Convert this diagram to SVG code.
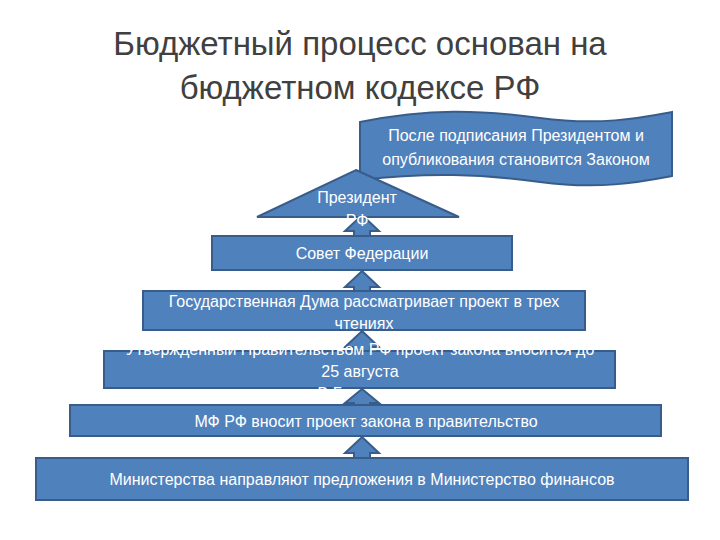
<svg xmlns="http://www.w3.org/2000/svg" width="720" height="540" viewBox="0 0 720 540">
<style>
.b{fill:#4F81BD;stroke:#385D8A;stroke-width:2}
.t{font-family:"Liberation Sans",Arial,sans-serif;font-size:16px;fill:#fff;text-anchor:middle}
.h{font-family:"Liberation Sans",Arial,sans-serif;font-size:33px;fill:#404040;text-anchor:middle}
</style>
<rect width="720" height="540" fill="#fff"/>
<text class="h" x="360" y="55">Бюджетный процесс основан на</text>
<text class="h" x="360" y="99">бюджетном кодексе РФ</text>
<g id="connectors">
<polygon class="b" points="362,215 379,231 370,231 370,238 354,238 354,231 345,231"/>
<polygon class="b" points="362,271 379,287 370,287 370,292 354,292 354,287 345,287"/>
<polygon class="b" points="362,331 379,347 370,347 370,352 354,352 354,347 345,347"/>
<polygon class="b" points="362,437 379,453 370,453 370,459 354,459 354,453 345,453"/>
</g>
<g id="banner">
<path class="b" d="M360,122 C430,108 480,110 540,118 C600,126 640,118 672,112 L672,176 C640,182 600,190 540,182 C480,174 430,172 360,180 Z"/>
<text class="t" x="516" y="141">После подписания Президентом и</text>
<text class="t" x="516" y="165">опубликования становится Законом</text>
</g>
<g id="president">
<polygon class="b" points="356,170 459,217 257,217"/>
<text class="t" x="357" y="203">Президент</text>
<text class="t" x="357" y="226">РФ</text>
</g>
<g id="sovfed">
<rect class="b" x="212" y="236" width="300" height="34"/>
<text class="t" x="362" y="259">Совет  Федерации</text>
</g>
<g id="duma">
<rect class="b" x="143" y="291" width="442" height="39"/>
<text class="t" x="364" y="307">Государственная Дума рассматривает проект в трех</text>
<text class="t" x="364" y="329">чтениях</text>
</g>
<g id="gov">
<rect class="b" x="104" y="351" width="511" height="37"/>
<text class="t" x="360" y="355">Утвержденный Правительством РФ проект закона вносится до</text>
<text class="t" x="360" y="377">25 августа</text>
<text class="t" x="360" y="399">В Гос. думу</text>
</g>
<polygon class="b" points="362,389 379,403 370,403 370,406 354,406 354,403 345,403"/>
<g id="mf">
<rect class="b" x="70" y="405" width="591" height="31"/>
<text class="t" x="366" y="427">МФ РФ вносит проект закона в правительство</text>
</g>
<g id="min">
<rect class="b" x="36" y="458" width="652" height="42"/>
<text class="t" x="362" y="485">Министерства направляют предложения в Министерство финансов</text>
</g>
</svg>
